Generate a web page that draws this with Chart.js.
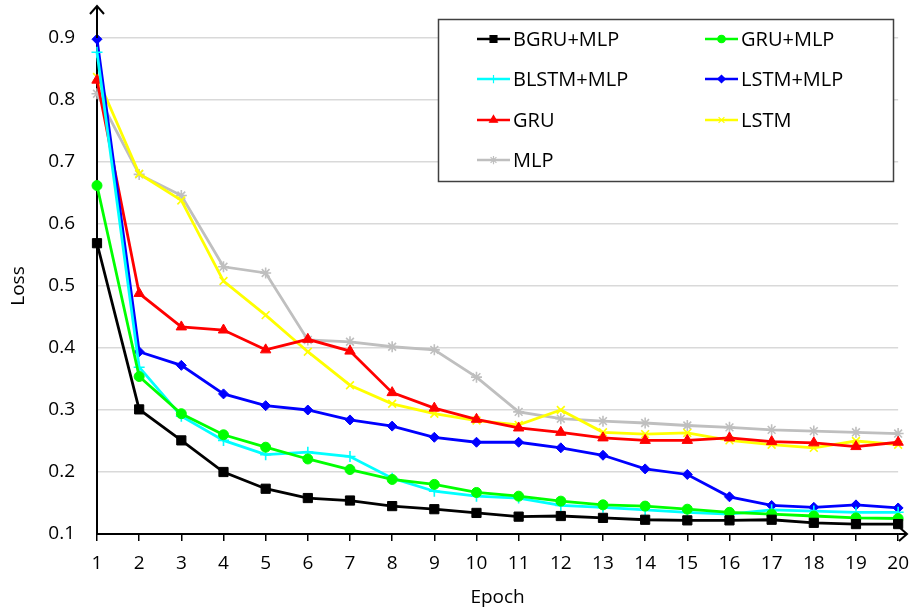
<!DOCTYPE html>
<html>
<head>
<meta charset="utf-8">
<script src="https://cdn.jsdelivr.net/npm/chart.js@4.4.1/dist/chart.umd.min.js"></script>
<style>
  body { margin: 0; background: #fff; }
  #wrap { width: 920px; height: 609px; }
</style>
</head>
<body>
<div id="wrap"><canvas id="lossChart" width="920" height="609"></canvas></div>
<script>
// dados
const epochs = ['1','2','3','4','5','6','7','8','9','10','11','12','13','14','15','16','17','18','19','20'];
const yTicks = [0.1, 0.2, 0.3, 0.4, 0.5, 0.6, 0.7, 0.8, 0.9];

const bgruMlp  = [0.569, 0.301, 0.251, 0.200, 0.173, 0.158, 0.154, 0.145, 0.140, 0.134, 0.128, 0.129, 0.126, 0.123, 0.122, 0.122, 0.123, 0.118, 0.116, 0.116];
const gruMlp   = [0.662, 0.354, 0.294, 0.260, 0.240, 0.221, 0.204, 0.188, 0.180, 0.167, 0.161, 0.153, 0.147, 0.145, 0.140, 0.135, 0.132, 0.129, 0.126, 0.125];
const blstmMlp = [0.877, 0.369, 0.290, 0.251, 0.228, 0.232, 0.225, 0.190, 0.169, 0.161, 0.158, 0.146, 0.143, 0.139, 0.135, 0.132, 0.139, 0.137, 0.135, 0.135];
const lstmMlp  = [0.898, 0.394, 0.372, 0.326, 0.307, 0.300, 0.284, 0.274, 0.256, 0.248, 0.248, 0.239, 0.227, 0.205, 0.196, 0.160, 0.146, 0.143, 0.147, 0.142];
const gru      = [0.832, 0.488, 0.434, 0.429, 0.397, 0.414, 0.395, 0.328, 0.303, 0.285, 0.271, 0.264, 0.255, 0.251, 0.251, 0.255, 0.249, 0.247, 0.241, 0.248];
const lstm     = [0.837, 0.681, 0.638, 0.508, 0.453, 0.394, 0.340, 0.310, 0.294, 0.283, 0.276, 0.300, 0.264, 0.261, 0.263, 0.251, 0.244, 0.239, 0.250, 0.244];
const mlp      = [0.810, 0.680, 0.646, 0.531, 0.521, 0.413, 0.410, 0.402, 0.397, 0.353, 0.297, 0.286, 0.282, 0.279, 0.275, 0.272, 0.268, 0.266, 0.264, 0.262];

const fontFam = '"Open Sans", "Liberation Sans", sans-serif';

function serie(label, data, color, style, radius) {
    return {
        label: label,
        data: data,
        borderColor: color,
        backgroundColor: color,
        pointBackgroundColor: color,
        pointBorderColor: color,
        pointStyle: style,
        pointRadius: radius,
        pointBorderWidth: (style === 'cross' || style === 'crossRot' || style === 'star') ? 1.6 : 1,
        borderWidth: 2.8,
        tension: 0,
        clip: false
    };
}

const datasets = [
    serie('BGRU+MLP', bgruMlp, '#000000', 'rect', 6.5),
    serie('GRU+MLP', gruMlp, '#00ff00', 'circle', 5),
    serie('BLSTM+MLP', blstmMlp, '#00ffff', 'cross', 5.5),
    serie('LSTM+MLP', lstmMlp, '#0000ff', 'rectRot', 5),
    serie('GRU', gru, '#ff0000', 'triangle', 6),
    serie('LSTM', lstm, '#ffff00', 'crossRot', 5.5),
    serie('MLP', mlp, '#bfbfbf', 'star', 5.5)
];

// desenha marcador pequeno na legenda
function marcador(ctx, style, x, y, r, color) {
    if (Chart.helpers && Chart.helpers.drawPoint) {
        ctx.fillStyle = color;
        ctx.strokeStyle = color;
        ctx.lineWidth = 1.2;
        Chart.helpers.drawPoint(ctx, { pointStyle: style, radius: r, rotation: 0, borderWidth: 1.2 }, x, y);
    }
}

// legenda em caixa com duas colunas + setas dos eixos
const extras = {
    id: 'extras',
    afterDraw(chart) {
        const ctx = chart.ctx;
        const area = chart.chartArea;
        const xAxisY = chart.scales.y.getPixelForValue(0.1);
        const yAxisX = area.left;

        ctx.save();
        ctx.strokeStyle = '#000';
        ctx.lineWidth = 2;
        ctx.lineCap = 'butt';
        // eixo y prolongado com seta
        ctx.beginPath();
        ctx.moveTo(yAxisX, area.top);
        ctx.lineTo(yAxisX, 6);
        ctx.stroke();
        ctx.beginPath();
        ctx.moveTo(yAxisX - 7, 14);
        ctx.lineTo(yAxisX, 6);
        ctx.lineTo(yAxisX + 7, 14);
        ctx.stroke();
        // seta do eixo x
        ctx.beginPath();
        ctx.moveTo(area.right, xAxisY);
        ctx.lineTo(907, xAxisY);
        ctx.stroke();
        ctx.beginPath();
        ctx.moveTo(899, xAxisY - 7);
        ctx.lineTo(907, xAxisY);
        ctx.lineTo(899, xAxisY + 7);
        ctx.stroke();

        // caixa da legenda
        ctx.fillStyle = '#fff';
        ctx.fillRect(438, 19, 456, 163);
        ctx.strokeStyle = '#404040';
        ctx.lineWidth = 1.5;
        ctx.strokeRect(438.5, 19.5, 455, 162);

        const colX = [477, 705];
        const rowY = [39, 79, 120, 160];
        ctx.font = '20px ' + fontFam;
        ctx.textBaseline = 'middle';
        ctx.textAlign = 'left';
        chart.data.datasets.forEach((ds, i) => {
            const x = colX[i % 2];
            const y = rowY[Math.floor(i / 2)];
            ctx.strokeStyle = ds.borderColor;
            ctx.lineWidth = 2.6;
            ctx.beginPath();
            ctx.moveTo(x, y);
            ctx.lineTo(x + 33, y);
            ctx.stroke();
            marcador(ctx, ds.pointStyle, x + 16.5, y, ds.pointRadius * 0.75, ds.borderColor);
            ctx.fillStyle = '#000';
            ctx.fillText(ds.label, x + 36, y + 1);
        });
        ctx.restore();
    }
};

const grafico = document.getElementById('lossChart');
new Chart(grafico, {
    type: 'line',
    data: {
        labels: epochs,
        datasets: datasets
    },
    options: {
        responsive: false,
        animation: false,
        layout: { padding: { top: 38, right: 15, left: 0, bottom: 0 } },
        plugins: {
            legend: { display: false },
            tooltip: { enabled: false }
        },
        scales: {
            x: {
                offset: false,
                grid: { drawOnChartArea: false, drawTicks: true, tickLength: 7, color: '#000', lineWidth: 1.5 },
                border: { color: '#000', width: 2 },
                ticks: { color: '#000', font: { family: fontFam, size: 19 }, padding: 11, maxRotation: 0, autoSkip: false },
                title: { display: true, text: 'Epoch', color: '#000', font: { family: fontFam, size: 19 }, padding: { top: 5, bottom: 0 } },
                afterFit(scale) { scale.height = 75; }
            },
            y: {
                min: 0.1,
                max: 0.9,
                afterBuildTicks(scale) { scale.ticks = yTicks.map(v => ({ value: v })); },
                grid: { color: '#d9d9d9', lineWidth: 1.5, drawTicks: false },
                border: { color: '#000', width: 2 },
                ticks: {
                    color: '#000',
                    font: { family: fontFam, size: 19 },
                    padding: 22,
                    callback: v => v.toFixed(1)
                },
                title: { display: true, text: 'Loss', color: '#000', font: { family: fontFam, size: 19 }, padding: { top: 7, bottom: 0 } },
                afterFit(scale) { scale.width = 97; }
            }
        }
    },
    plugins: [extras]
});
</script>
</body>
</html>
